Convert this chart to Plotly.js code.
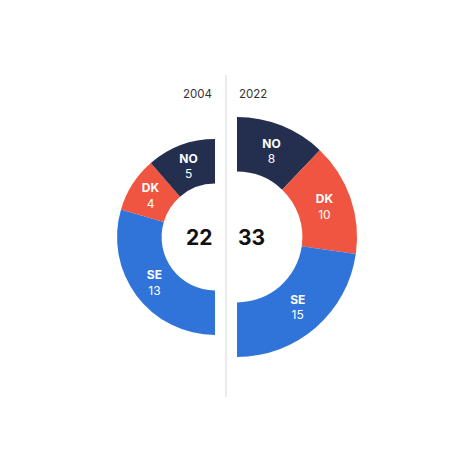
<!DOCTYPE html>
<html>
<head>
<meta charset="utf-8">
<script src="https://cdn.plot.ly/plotly-3.0.1.min.js"></script>
<style>
  html, body { margin: 0; padding: 0; background: #fff; }
  #chart { width: 474px; height: 474px; }
</style>
</head>
<body>
<div id="chart"></div>
<script>
// data
var countries = ['NO', 'DK', 'SE'];
var years = ['2004', '2022'];
var vals2004 = [5, 4, 13];
var vals2022 = [8, 10, 15];
var colors = ['#242f4f', '#ef5540', '#3074da'];

var W = 474;
var sum = function (a) { return a.reduce(function (s, v) { return s + v; }, 0); };
var tot2004 = sum(vals2004);
var tot2022 = sum(vals2022);

// area scaled half donuts, the bigger one 120px radius
var rBig = 120;
var r2004 = rBig * Math.sqrt(tot2004 / Math.max(tot2004, tot2022));
var r2022 = rBig * Math.sqrt(tot2022 / Math.max(tot2004, tot2022));
var cxLeft = 215, cxRight = 237;

function halfDonut(vals, total, r, cx, side) {
  // an invisible slice as big as the total fills the other half of the ring
  var labels = countries.concat(['_rest']);
  var text = countries.map(function (c, i) {
    return '<b>' + c + '</b><br>' + vals[i];
  }).concat(['']);
  var v = vals.concat([total]);
  var cols = colors.concat(['rgba(0,0,0,0)']);
  if (side === 'left') {
    // clockwise from 12 o'clock: hidden half first, then SE, DK, NO back up to the top
    labels = labels.slice().reverse();
    text = text.slice().reverse();
    v = v.slice().reverse();
    cols = cols.slice().reverse();
  }
  return {
    type: 'pie',
    values: v,
    labels: labels,
    text: text,
    textinfo: 'text',
    textposition: 'inside',
    insidetextorientation: 'horizontal',
    insidetextfont: { family: 'Inter, sans-serif', size: 12, color: '#ffffff' },
    hole: 0.545,
    sort: false,
    rotation: 0,
    direction: 'clockwise',
    marker: { colors: cols, line: { width: 0 } },
    hoverinfo: 'skip',
    showlegend: false,
    domain: {
      x: [(cx - r) / W, (cx + r) / W],
      y: [0.5 - r / W, 0.5 + r / W]
    }
  };
}

var traces = [
  halfDonut(vals2004, tot2004, r2004, cxLeft, 'left'),
  halfDonut(vals2022, tot2022, r2022, cxRight, 'right')
];

var layout = {
  width: 474,
  height: 474,
  margin: { l: 0, r: 0, t: 0, b: 0 },
  paper_bgcolor: '#ffffff',
  font: { family: 'Inter, sans-serif', color: '#222' },
  shapes: [{
    type: 'line', xref: 'paper', yref: 'paper',
    x0: 226 / W, x1: 226 / W, y0: 1 - 397 / W, y1: 1 - 75 / W,
    line: { color: '#e4e4e4', width: 1.5 }
  }],
  annotations: [
    { text: years[0], xref: 'paper', yref: 'paper', x: 214 / W, y: 1 - 94 / W,
      xanchor: 'right', yanchor: 'middle', showarrow: false,
      font: { size: 11.5, color: '#333' } },
    { text: years[1], xref: 'paper', yref: 'paper', x: 237 / W, y: 1 - 94 / W,
      xanchor: 'left', yanchor: 'middle', showarrow: false,
      font: { size: 11.5, color: '#333' } },
    { text: '<b>' + tot2004 + '</b>', xref: 'paper', yref: 'paper', x: 214 / W, y: 0.5,
      xanchor: 'right', yanchor: 'middle', showarrow: false,
      font: { size: 21, color: '#111' } },
    { text: '<b>' + tot2022 + '</b>', xref: 'paper', yref: 'paper', x: 236 / W, y: 0.5,
      xanchor: 'left', yanchor: 'middle', showarrow: false,
      font: { size: 21, color: '#111' } }
  ]
};

Plotly.newPlot('chart', traces, layout, { displayModeBar: false, staticPlot: true });
</script>
</body>
</html>
